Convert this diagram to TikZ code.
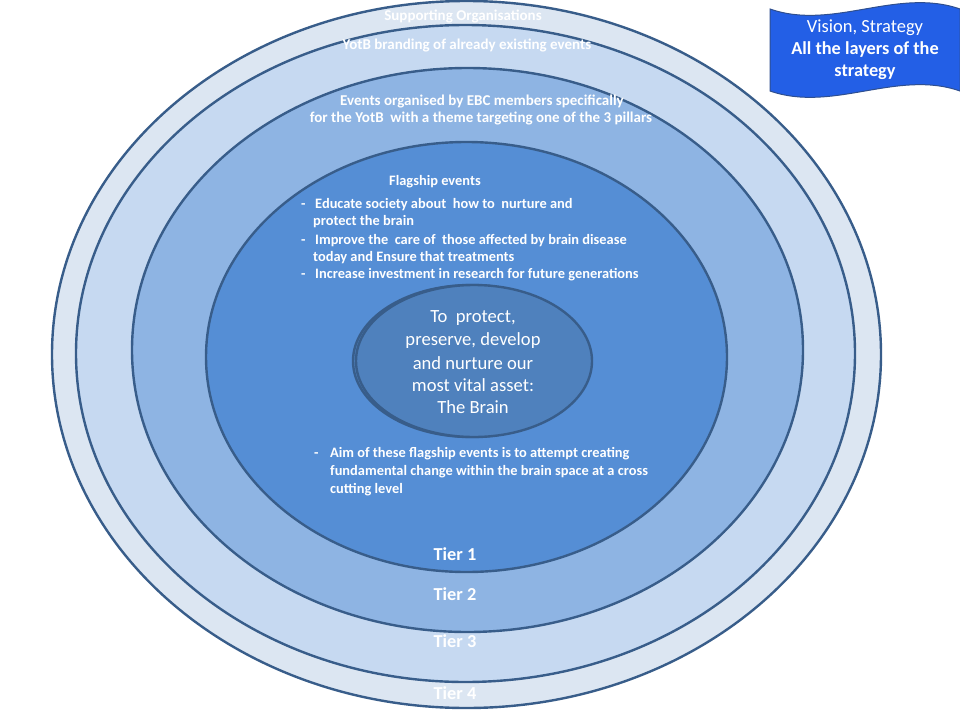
\documentclass[tikz,border=0pt]{standalone}
\usepackage{fontspec}
\setmainfont{Carlito}
\usetikzlibrary{shapes.geometric}
\definecolor{tfour}{HTML}{DCE6F2}
\definecolor{tthree}{HTML}{C6D9F1}
\definecolor{ttwo}{HTML}{8EB4E3}
\definecolor{tone}{HTML}{558ED5}
\definecolor{tcore}{HTML}{4F81BD}
\definecolor{ringline}{HTML}{385D8A}
\definecolor{bannerfill}{HTML}{235FE6}
\definecolor{bannerline}{HTML}{2F4F8F}
\begin{document}
\begin{tikzpicture}[x=1pt,y=-1pt,
  ring/.style={ellipse, draw=ringline, line width=2.4pt, inner sep=0pt, outer sep=0pt},
  wt/.style={text=white, inner sep=0pt},
  outer/.style={wt, font=\bfseries\fontsize{15}{17}\selectfont},
  small/.style={wt, font=\bfseries\fontsize{14.4}{17}\selectfont},
  tier/.style={wt, font=\bfseries\fontsize{18.3}{21}\selectfont},
  core/.style={wt, font=\fontsize{18.6}{22}\selectfont},
  ban/.style={wt, font=\fontsize{18.5}{22}\selectfont},
  banb/.style={wt, font=\bfseries\fontsize{18.3}{22}\selectfont}]
\useasboundingbox (0,0) rectangle (960,720);
\fill[white] (0,0) rectangle (960,720);
% rings
\node[ring, fill=tfour, minimum width=829pt, minimum height=707pt] (t4) at (466.5,354.5) {};
\node[ring, fill=tthree, minimum width=779pt, minimum height=657pt] (t3) at (465.5,353.5) {};
\node[ring, fill=ttwo, minimum width=671pt, minimum height=564pt] (t2) at (467.5,350) {};
\node[ring, fill=tone, minimum width=521pt, minimum height=430pt] (t1) at (466.5,357) {};
\node[ring, fill=tcore, minimum width=235pt, minimum height=152pt] (c0) at (470.5,361) {};
\node[ring, fill=tcore, minimum width=236pt, minimum height=152pt] (c1) at (474,361) {};
% outer texts
\node[outer] (so) at (463,16) {Supporting Organisations};
\node[outer] (yb) at (467,45) {YotB branding of already existing events};
\node[outer] (ev1) at (482,101) {Events organised by EBC members specifically};
\node[outer] (ev2) at (481,118) {for the YotB\ \ with a theme targeting one of the 3 pillars};
% flagship
\node[small, anchor=mid west] (fl) at (389,183) {Flagship events};
\node[small, anchor=mid west] (d1) at (301,206) {-};
\node[small, anchor=mid west] (b1a) at (315,206) {Educate society about\ \ how to\ \ nurture and};
\node[small, anchor=mid west] (b1b) at (313,223) {protect the brain};
\node[small, anchor=mid west] (d2) at (301,242) {-};
\node[small, anchor=mid west] (b2a) at (315,242) {Improve the\ \ care of\ \ those affected by brain disease};
\node[small, anchor=mid west] (b2b) at (313,259) {today and Ensure that treatments};
\node[small, anchor=mid west] (d3) at (301,276) {-};
\node[small, anchor=mid west] (b3a) at (315,276) {Increase investment in research for future generations};
% core
\node[core] (ct1) at (473,318) {To\ \ protect,};
\node[core] (ct2) at (473,341) {preserve, develop};
\node[core] (ct3) at (473,363) {and nurture our};
\node[core] (ct4) at (473,385) {most vital asset:};
\node[core] (ct5) at (473,407) {The Brain};
% aim
\node[small, anchor=mid west] (d4) at (314,455) {-};
\node[small, anchor=mid west] (a1) at (330,455) {Aim of these flagship events is to attempt creating};
\node[small, anchor=mid west] (a2) at (330,473) {fundamental change within the brain space at a cross};
\node[small, anchor=mid west] (a3) at (330,491) {cutting level};
% tiers
\node[tier] (tr1) at (455,554) {Tier 1};
\node[tier] (tr2) at (455,594) {Tier 2};
\node[tier] (tr3) at (455,641) {Tier 3};
\node[tier] (tr4) at (455,693) {Tier 4};
% banner
\draw[fill=bannerfill, draw=bannerline, line width=1pt]
  (770,9) .. controls (833,31) and (897,-13) .. (960,9) -- (960,91)
  .. controls (897,69) and (833,113) .. (770,91) -- cycle;
\node[ban] (bn1) at (865,28) {Vision, Strategy};
\node[banb] (bn2) at (865,50) {All the layers of the};
\node[banb] (bn3) at (865,72) {strategy};
\end{tikzpicture}
\end{document}
